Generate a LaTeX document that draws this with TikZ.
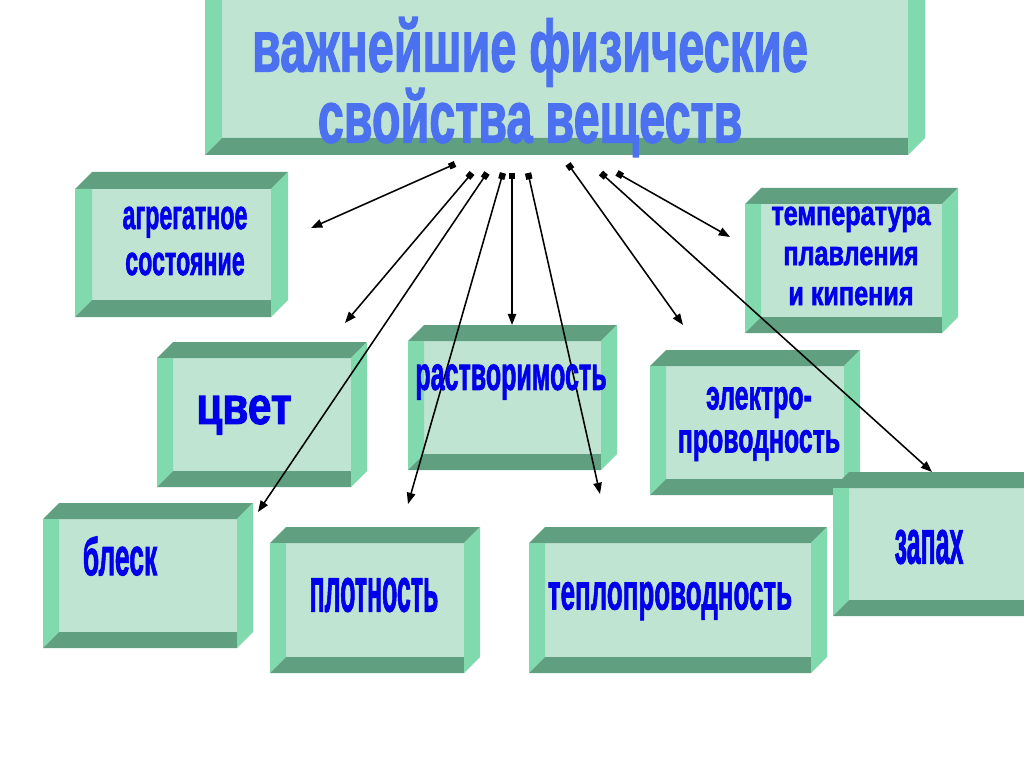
\documentclass[tikz,border=0pt]{standalone}
\usepackage{fontspec}
\setmainfont{Liberation Sans}
\newfontfamily\wafont[FakeBold=2]{Liberation Sans}
\usetikzlibrary{arrows.meta}

\definecolor{bandDark}{RGB}{96,160,128}
\definecolor{bandLight}{RGB}{128,218,174}
\definecolor{faceGreen}{RGB}{192,228,210}
\definecolor{wordBlue}{RGB}{0,0,235}
\definecolor{titleBlue}{RGB}{75,112,240}

% bevelled box: [depth]{left}{top}{right}{bottom}, pixel units, y grows down
\newcommand{\bevbox}[5][16]{%
  \fill[faceGreen] (#2+#1,#3+#1) rectangle (#4-#1,#5-#1);
  \fill[bandDark] (#2,#3+#1) -- (#2+#1,#3) -- (#4,#3) -- (#4-#1,#3+#1) -- cycle;
  \fill[bandLight] (#2,#3+#1) -- (#2+#1,#3+#1) -- (#2+#1,#5-#1) -- (#2,#5) -- cycle;
  \fill[bandDark] (#2,#5) -- (#2+#1,#5-#1) -- (#4-#1,#5-#1) -- (#4-#1,#5) -- cycle;
  \fill[bandLight] (#4-#1,#3+#1) -- (#4,#3) -- (#4,#5-#1) -- (#4-#1,#5) -- cycle;
}

\tikzset{
  waword/.style={text=wordBlue, align=center, inner sep=0pt},
  wasize/.style 2 args={font=\wafont\bfseries\fontsize{#1}{#2}\selectfont},
  link/.style={{Square[length=4.5pt,width=4.5pt]}-{Triangle[length=8pt,width=6pt]}, line width=1.1pt, black},
}

\begin{document}
\begin{tikzpicture}[x=0.025cm, y=-0.025cm]
    \useasboundingbox (0,0) rectangle (1024,767);
    \clip (0,0) rectangle (1024,767);
    \fill[white] (0,0) rectangle (1024,767);
    % title box and the nine property boxes
    \bevbox[17]{205}{-20}{925}{155}
    \bevbox[17]{75}{172}{288}{317}
    \bevbox{157}{342}{367}{487}
    \bevbox{408}{325}{617}{470}
    \bevbox{650}{350}{860}{495}
    \bevbox{745}{188}{958}{333}
    \bevbox{43}{503}{253}{648}
    \bevbox{270}{527}{480}{673}
    \bevbox{529}{527}{827}{673}
    \bevbox{833}{472}{1043}{616}
    % arrow ends
    \coordinate (s1) at (455,164); \coordinate (e1) at (311,228);
    \coordinate (s2) at (472,173); \coordinate (e2) at (345,323);
    \coordinate (s3) at (487,173); \coordinate (e3) at (258,512);
    \coordinate (s4) at (503,173); \coordinate (e4) at (408,504);
    \coordinate (s5) at (512,173); \coordinate (e5) at (512,325);
    \coordinate (s6) at (528,173); \coordinate (e6) at (600,494);
    \coordinate (s7) at (568,164); \coordinate (e7) at (683,325);
    \coordinate (s8) at (601,173); \coordinate (e8) at (932,472);
    \coordinate (s9) at (617,173); \coordinate (e9) at (730,237);
    \foreach \i in {1,...,9}
        \draw[link] (s\i) -- (e\i);
    % texts
    \node[waword, text=titleBlue, wasize={52}{47}, xscale=0.64] (title) at (530,87) {важнейшие физические\\свойства веществ};
    \node[waword, wasize={29.5}{32.7}, xscale=0.56] (aggr) at (185,241) {агрегатное\\состояние};
    \node[waword, wasize={37.6}{40}, xscale=0.8] (color) at (244,415) {цвет};
    \node[waword, wasize={33.6}{36}, xscale=0.53] (solub) at (511,382) {растворимость};
    \node[waword, wasize={29.5}{30.6}, xscale=0.6] (elcond) at (759,424) {электро-\\проводность};
    \node[waword, wasize={24.2}{28.5}, xscale=0.74] (melt) at (851,256) {температура\\плавления\\и кипения};
    \node[waword, wasize={37.6}{40}, xscale=0.5] (luster) at (120,556) {блеск};
    \node[waword, wasize={44.3}{46}, xscale=0.4] (dens) at (374,595) {плотность};
    \node[waword, wasize={36.2}{38}, xscale=0.51] (heatcond) at (670,601) {теплопроводность};
    \node[waword, wasize={44.3}{46}, xscale=0.4] (smell) at (929,547) {запах};
\end{tikzpicture}
\end{document}
